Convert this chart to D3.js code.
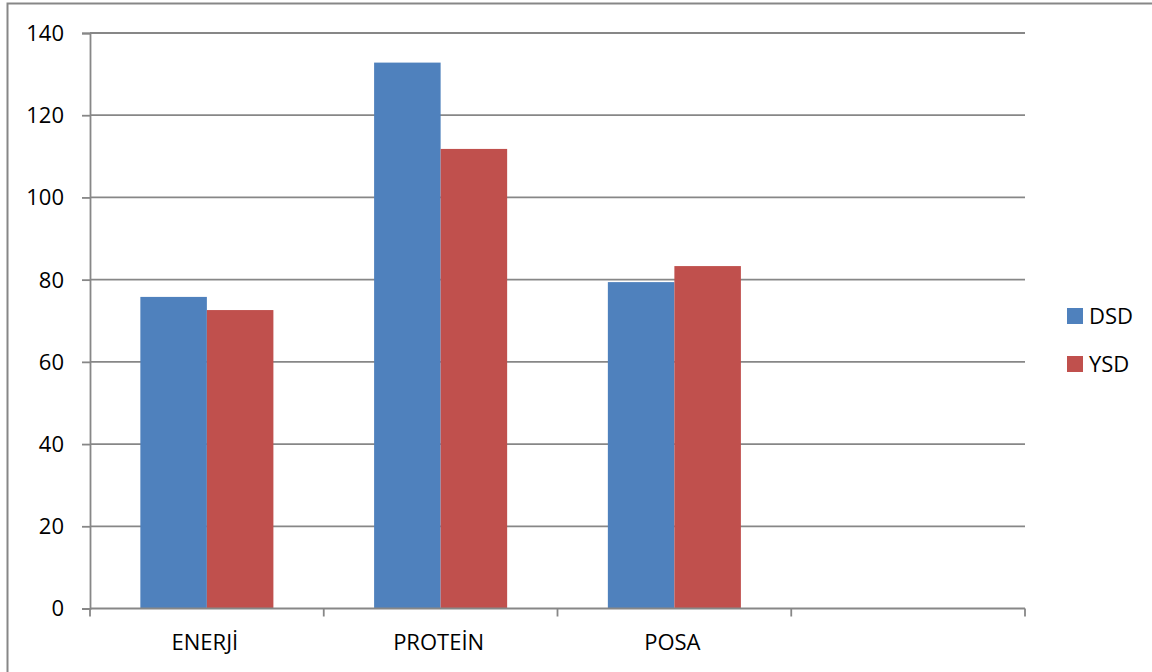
<!DOCTYPE html>
<html><head><meta charset="utf-8">
<script src="https://cdn.jsdelivr.net/npm/d3@7"></script>
<style>body{margin:0;background:#fff;} svg{display:block;font-family:"Open Sans",sans-serif;}</style>
</head><body>
<svg id="c" width="1152" height="672"></svg>
<script>
const categories = ["ENERJİ", "PROTEİN", "POSA", ""];
const seriesNames = ["DSD", "YSD"];
const dsdValues = [75.8, 132.8, 79.4, null];
const ysdValues = [72.6, 111.8, 83.3, null];
const yTicks = [0, 20, 40, 60, 80, 100, 120, 140];
const colors = ["#4F81BD", "#C0504D"];

(function () {
const svg = d3.select("#c");
const gridColor = "#878787";

// outer border
svg.append("rect").attr("x", 7.5).attr("y", 3.5).attr("width", 1160).attr("height", 680)
  .attr("fill", "none").attr("stroke", gridColor).attr("stroke-width", 2);

const pLeft = 90, pRight = 1025, pTop = 33, pBottom = 608.5;
const x = d3.scaleBand().domain(categories).range([pLeft, pRight]).paddingInner(0).paddingOuter(0);
const x1 = d3.scaleBand().domain(seriesNames).range([0, x.bandwidth()]).paddingInner(0).paddingOuter(0.757);
const y = d3.scaleLinear().domain([0, 140]).range([pBottom, pTop]);

// gridlines
svg.append("g").selectAll("line").data(yTicks.filter(d => d > 0)).join("line")
  .attr("x1", pLeft).attr("x2", pRight).attr("y1", d => y(d)).attr("y2", d => y(d))
  .attr("stroke", gridColor).attr("stroke-width", 1.8);

// y axis
const yAxis = svg.append("g").attr("transform", `translate(${pLeft},0)`)
  .call(d3.axisLeft(y).tickValues(yTicks).tickSize(8).tickPadding(18).tickFormat(d3.format("d")));
yAxis.attr("font-family", "Open Sans").attr("font-size", 22);
yAxis.select(".domain").attr("stroke", gridColor).attr("stroke-width", 1.8);
yAxis.selectAll(".tick line").attr("stroke", gridColor).attr("stroke-width", 1.8);
yAxis.selectAll(".tick text").attr("fill", "#000").attr("dy", "0.34em");

// bars
const data = categories.map((c, i) => ({ cat: c, vals: [dsdValues[i], ysdValues[i]] }));
const groups = svg.append("g").selectAll("g").data(data).join("g")
  .attr("transform", d => `translate(${x(d.cat)},0)`);
groups.selectAll("rect").data(d => d.vals.map((v, j) => ({ v, s: seriesNames[j], j })).filter(e => e.v != null))
  .join("rect")
  .attr("x", e => x1(e.s)).attr("width", x1.bandwidth())
  .attr("y", e => y(e.v)).attr("height", e => y(0) - y(e.v))
  .attr("fill", e => colors[e.j]);

// x axis
const xAxisG = svg.append("g");
xAxisG.append("line").attr("x1", pLeft).attr("x2", pRight).attr("y1", pBottom).attr("y2", pBottom)
  .attr("stroke", gridColor).attr("stroke-width", 1.8);
const boundaries = categories.map(c => x(c)).concat([x(categories[categories.length - 1]) + x.bandwidth()]);
xAxisG.selectAll("line.t").data(boundaries).join("line").attr("class", "t")
  .attr("x1", d => d).attr("x2", d => d).attr("y1", pBottom).attr("y2", pBottom + 8)
  .attr("stroke", gridColor).attr("stroke-width", 1.8);
xAxisG.selectAll("text").data(categories).join("text")
  .attr("x", d => x(d) + x.bandwidth() / 2 - 2).attr("y", 650)
  .attr("text-anchor", "middle").attr("font-size", 22).attr("fill", "#000")
  .text(d => d);

// legend
const legend = svg.append("g").selectAll("g").data(seriesNames).join("g")
  .attr("transform", (d, i) => `translate(1067,${308 + i * 48})`);
legend.append("rect").attr("width", 16).attr("height", 16).attr("fill", (d, i) => colors[i]);
legend.append("text").attr("x", 22).attr("y", 8).attr("dy", "0.36em")
  .attr("font-size", 22).attr("fill", "#000").text(d => d);
})();
</script>
</body></html>
